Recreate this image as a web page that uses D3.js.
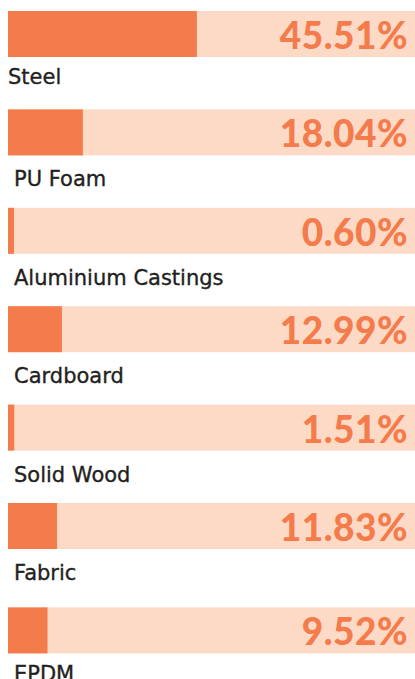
<!DOCTYPE html>
<html>
<head>
<meta charset="utf-8">
<script src="https://cdn.jsdelivr.net/npm/d3@7"></script>
<style>
  html, body { margin: 0; padding: 0; background: #fff; }
  svg { display: block; }
</style>
</head>
<body>
<div id="chart"></div>
<script>
const categories = ["Steel", "PU Foam", "Aluminium Castings", "Cardboard", "Solid Wood", "Fabric", "EPDM"];
const values = [45.51, 18.04, 0.60, 12.99, 1.51, 11.83, 9.52];
const valueLabels = ["45.51%", "18.04%", "0.60%", "12.99%", "1.51%", "11.83%", "9.52%"];

const W = 415, H = 679;
const left = 8, barH = 46;
const n = categories.length;

const svg = d3.select("#chart").append("svg")
  .attr("width", W).attr("height", H);

const x = d3.scaleLinear().domain([0, 100]).range([0, 415]);
const y = d3.scalePoint().domain(categories).range([11, 11 + 98.4 * (n - 1)]);

const rows = categories.map((c, i) => ({ c, v: values[i], label: valueLabels[i], i }));
const rowTop = d => y(d.c) + (d.i === n - 1 ? 6 : 0);

const g = svg.selectAll("g.row").data(rows).enter().append("g").attr("class", "row");

g.append("rect")
  .attr("x", left)
  .attr("y", rowTop)
  .attr("width", x(100))
  .attr("height", barH)
  .attr("fill", "#fddac6");

g.append("rect")
  .attr("x", left)
  .attr("y", rowTop)
  .attr("width", d => Math.max(x(d.v), 6))
  .attr("height", barH)
  .attr("fill", "#f47b4c");

g.append("text")
  .attr("x", 408)
  .attr("y", d => rowTop(d) + 38)
  .attr("text-anchor", "end")
  .attr("font-family", "Lato, 'Open Sans', sans-serif")
  .attr("font-weight", 900)
  .attr("font-size", 37)
  .attr("letter-spacing", 0.5)
  .attr("fill", "#f47b4c")
  .text(d => d.label);

g.append("text")
  .attr("x", d => d.i === 0 ? 8 : 14)
  .attr("y", d => rowTop(d) + (d.i === 0 ? 73 : d.i === n - 1 ? 74 : 77))
  .attr("font-family", "'DejaVu Sans', sans-serif")
  .attr("font-size", 21)
  .attr("fill", "#231f20")
  .attr("stroke", "#231f20")
  .attr("stroke-width", 0.35)
  .text(d => d.c);
</script>
</body>
</html>
